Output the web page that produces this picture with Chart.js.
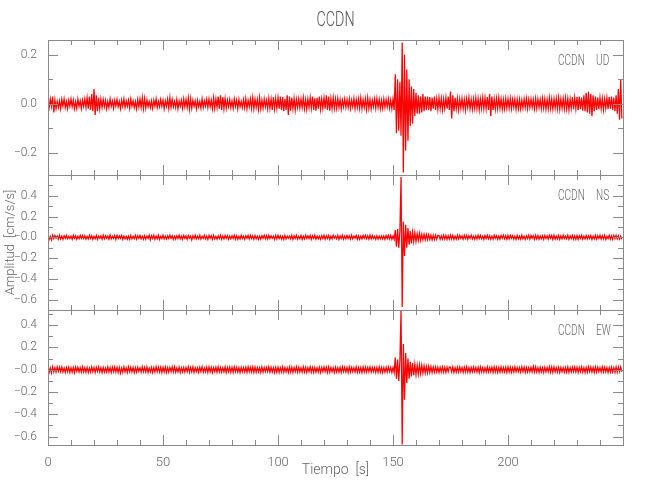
<!DOCTYPE html>
<html><head><meta charset="utf-8">
<script src="https://cdn.jsdelivr.net/npm/chart.js@4/dist/chart.umd.min.js"></script>
<style>html,body{margin:0;padding:0;background:#fff;}canvas{display:block;}</style>
</head><body>
<canvas id="c" width="650" height="500"></canvas>
<script>
// ---------- data ----------
const estacion = 'CCDN';
const componentes = ['UD', 'NS', 'EW'];
const DT = 0.5;                       // sample interval [s]
const xTicks = [0, 50, 100, 150, 200];
const xMinorTicks = [10, 20, 30, 40, 60, 70, 80, 90, 110, 120, 130, 140, 160, 170, 180, 190, 210, 220, 230, 240];
const udTicks = [-0.2, 0, 0.2];
const udMinorTicks = [-0.1, 0.1];
const acTicks = [-0.6, -0.4, -0.2, 0, 0.2, 0.4];
const acMinorTicks = [-0.5, -0.3, -0.1, 0.1, 0.3, 0.5];

const ud = [
.01,-.015,.02,-.01,.03,-.035,.015,-.02,.01,-.015,
.012,-.02,.018,-.01,.02,-.015,.01,-.02,.015,-.01,
.02,-.012,.015,-.02,.01,-.018,.02,-.01,.012,-.02,
.015,-.01,.02,-.015,.025,-.02,.03,-.025,.04,-.03,
.06,-.045,.035,-.03,.025,-.02,.02,-.015,.018,-.012,
.015,-.02,.01,-.015,.02,-.01,.012,-.018,.015,-.01,
.018,-.012,.01,-.02,.015,-.01,.02,-.015,.012,-.01,
.015,-.018,.02,-.01,.012,-.015,.01,-.02,.018,-.012,
.02,-.015,.025,-.02,.022,-.018,.015,-.012,.01,-.015,
.012,-.018,.015,-.01,.02,-.015,.01,-.012,.018,-.01,
.015,-.02,.012,-.01,.02,-.018,.025,-.015,.018,-.012,
.01,-.015,.018,-.02,.012,-.01,.015,-.018,.02,-.012,
.018,-.015,.025,-.022,.02,-.018,.015,-.01,.012,-.02,
.015,-.012,.01,-.018,.02,-.015,.012,-.01,.018,-.015,
.02,-.012,.015,-.02,.025,-.018,.02,-.015,.03,-.02,
.035,-.025,.028,-.02,.022,-.018,.015,-.012,.018,-.015,
.012,-.018,.02,-.01,.015,-.02,.018,-.012,.01,-.015,
.018,-.015,.022,-.02,.015,-.012,.02,-.018,.025,-.02,
.02,-.015,.018,-.022,.025,-.02,.015,-.018,.02,-.012,
.015,-.02,.022,-.018,.02,-.025,.028,-.02,.022,-.018,
.025,-.02,.03,-.025,.028,-.03,.02,-.025,.035,-.045,
.03,-.028,.025,-.02,.022,-.025,.018,-.015,.02,-.018,
.02,-.015,.025,-.02,.018,-.022,.02,-.015,.025,-.018,
.03,-.025,.022,-.028,.025,-.02,.03,-.022,.02,-.018,
.025,-.02,.035,-.025,.03,-.028,.022,-.02,.025,-.018,
.02,-.018,.022,-.015,.018,-.02,.015,-.012,.02,-.015,
.018,-.015,.02,-.018,.015,-.012,.022,-.02,.018,-.015,
.02,-.018,.025,-.02,.018,-.015,.02,-.022,.025,-.018,
.018,-.02,.015,-.012,.02,-.018,.022,-.015,.018,-.02,
.015,-.018,.02,-.015,.018,-.012,.02,-.018,.015,-.02,
.02,-.025,.12,-.12,.1,-.11,.09,-.13,.25,-.28,
.2,-.19,.14,-.15,.1,-.09,.07,-.08,.06,-.05,
.045,-.04,.035,-.04,.03,-.035,.04,-.03,.03,-.025,
.03,-.025,.028,-.03,.025,-.02,.03,-.025,.02,-.022,
.025,-.02,.022,-.025,.02,-.018,.025,-.02,.03,-.025,
.05,-.06,.035,-.03,.025,-.02,.022,-.025,.02,-.018,
.022,-.02,.018,-.025,.02,-.015,.025,-.02,.018,-.022,
.02,-.018,.025,-.02,.022,-.025,.02,-.018,.025,-.02,
.025,-.02,.028,-.025,.04,-.05,.03,-.025,.02,-.022,
.022,-.02,.025,-.018,.02,-.022,.018,-.02,.022,-.018,
.02,-.018,.022,-.02,.018,-.015,.02,-.022,.018,-.02,
.018,-.02,.015,-.018,.02,-.015,.022,-.02,.018,-.015,
.02,-.015,.018,-.02,.022,-.018,.02,-.015,.018,-.02,
.022,-.018,.02,-.022,.018,-.02,.025,-.018,.02,-.022,
.02,-.018,.022,-.02,.025,-.022,.02,-.018,.022,-.02,
.025,-.02,.022,-.025,.02,-.018,.028,-.022,.025,-.02,
.028,-.025,.03,-.022,.025,-.028,.035,-.03,.045,-.035,
.05,-.04,.04,-.05,.035,-.03,.03,-.025,.025,-.022,
.025,-.02,.022,-.025,.02,-.018,.025,-.022,.028,-.02,
.03,-.025,.025,-.03,.035,-.04,.06,-.065,.1,-.06
];

const ns = [
.015,-.02,.01,-.025,.02,-.012,.018,-.01,.012,-.018,
.02,-.015,.012,-.02,.015,-.01,.018,-.015,.01,-.012,
.012,-.018,.02,-.01,.015,-.02,.01,-.015,.018,-.012,
.018,-.012,.015,-.018,.01,-.015,.02,-.012,.015,-.02,
.01,-.015,.018,-.02,.012,-.01,.015,-.018,.02,-.015,
.015,-.01,.012,-.018,.02,-.015,.01,-.012,.018,-.02,
.02,-.012,.015,-.01,.018,-.02,.012,-.015,.01,-.018,
.012,-.02,.018,-.015,.01,-.012,.02,-.018,.015,-.01,
.018,-.015,.01,-.02,.015,-.018,.012,-.01,.02,-.025,
.015,-.012,.02,-.018,.012,-.015,.018,-.02,.01,-.012,
.02,-.015,.012,-.018,.015,-.012,.02,-.01,.015,-.02,
.01,-.018,.015,-.012,.02,-.015,.012,-.02,.018,-.01,
.015,-.02,.018,-.01,.012,-.025,.015,-.012,.02,-.015,
.012,-.015,.02,-.018,.01,-.012,.018,-.015,.012,-.02,
.018,-.01,.015,-.02,.02,-.015,.01,-.018,.015,-.012,
.02,-.018,.012,-.015,.018,-.01,.015,-.02,.012,-.015,
.015,-.012,.02,-.018,.015,-.02,.01,-.015,.02,-.012,
.012,-.02,.015,-.01,.018,-.015,.02,-.012,.015,-.018,
.018,-.015,.01,-.02,.012,-.018,.015,-.01,.02,-.015,
.015,-.018,.02,-.012,.015,-.01,.012,-.02,.018,-.015,
.02,-.012,.015,-.018,.01,-.02,.018,-.015,.012,-.01,
.012,-.015,.018,-.02,.015,-.012,.02,-.018,.01,-.015,
.018,-.02,.012,-.015,.02,-.01,.015,-.012,.018,-.02,
.015,-.01,.02,-.018,.012,-.015,.01,-.02,.015,-.012,
.02,-.018,.015,-.012,.018,-.02,.012,-.015,.02,-.01,
.01,-.015,.018,-.02,.015,-.012,.02,-.018,.012,-.015,
.018,-.012,.015,-.018,.02,-.015,.012,-.01,.018,-.02,
.015,-.02,.012,-.015,.018,-.01,.02,-.015,.015,-.018,
.02,-.015,.018,-.012,.01,-.02,.015,-.018,.012,-.015,
.012,-.018,.015,-.02,.018,-.012,.02,-.015,.018,-.02,
.015,-.02,.07,-.09,.08,-.1,.06,.58,-.67,.15,
-.18,.12,-.1,.09,-.07,.06,-.06,.05,-.04,.045,
-.04,.035,-.03,.04,-.03,.03,-.025,.03,-.025,.028,
-.022,.025,-.02,.022,-.025,.02,-.02,.022,-.018,.02,
.018,-.02,.015,-.018,.02,-.015,.018,-.02,.015,-.018,
.02,-.015,.018,-.02,.012,-.018,.02,-.015,.018,-.012,
.015,-.018,.02,-.012,.018,-.02,.015,-.01,.02,-.015,
.012,-.02,.015,-.018,.02,-.012,.018,-.015,.01,-.02,
.018,-.012,.02,-.015,.015,-.02,.012,-.018,.02,-.01,
.015,-.02,.012,-.018,.018,-.01,.02,-.015,.015,-.02,
.02,-.015,.018,-.01,.015,-.018,.012,-.02,.018,-.015,
.012,-.018,.02,-.015,.01,-.02,.015,-.012,.02,-.018,
.018,-.01,.015,-.02,.02,-.015,.018,-.018,.012,-.015,
.015,-.02,.018,-.012,.015,-.018,.02,-.01,.018,-.02,
.02,-.018,.012,-.015,.018,-.02,.015,-.015,.02,-.012,
.012,-.015,.02,-.02,.015,-.012,.018,-.018,.015,-.02,
.018,-.02,.015,-.01,.02,-.018,.012,-.015,.018,-.015,
.015,-.012,.018,-.02,.012,-.015,.02,-.018,.015,-.01,
.02,-.018,.015,-.015,.018,-.02,.01,-.012,.02,-.018,
.015,-.02,.018,-.012,.02,-.015,.015,-.018,.012,-.02
];

const ew = [
.02,-.025,.015,-.03,.025,-.02,.018,-.022,.025,-.015,
.022,-.018,.025,-.02,.015,-.025,.02,-.018,.022,-.025,
.018,-.022,.02,-.025,.025,-.015,.022,-.02,.018,-.022,
.025,-.02,.018,-.022,.02,-.025,.015,-.02,.025,-.018,
.02,-.025,.022,-.015,.025,-.02,.018,-.025,.02,-.022,
.015,-.02,.025,-.022,.018,-.025,.022,-.018,.025,-.02,
.022,-.025,.02,-.03,.015,-.022,.025,-.02,.018,-.025,
.025,-.018,.022,-.02,.02,-.025,.018,-.022,.022,-.015,
.018,-.022,.025,-.018,.022,-.02,.025,-.025,.015,-.02,
.02,-.025,.018,-.022,.025,-.018,.02,-.02,.022,-.025,
.022,-.02,.025,-.025,.018,-.022,.02,-.018,.025,-.02,
.025,-.022,.015,-.02,.022,-.025,.018,-.02,.02,-.022,
.02,-.018,.025,-.022,.02,-.02,.025,-.025,.018,-.018,
.018,-.025,.022,-.018,.025,-.022,.015,-.02,.022,-.025,
.025,-.02,.02,-.025,.018,-.018,.022,-.022,.025,-.02,
.02,-.022,.018,-.02,.025,-.025,.02,-.018,.022,-.022,
.022,-.025,.025,-.018,.02,-.022,.018,-.025,.02,-.02,
.018,-.02,.022,-.025,.025,-.018,.022,-.02,.025,-.025,
.025,-.022,.02,-.02,.018,-.025,.025,-.022,.02,-.018,
.02,-.018,.025,-.022,.022,-.02,.018,-.025,.022,-.022,
.022,-.025,.018,-.02,.025,-.022,.02,-.02,.018,-.025,
.025,-.02,.022,-.025,.02,-.018,.025,-.022,.022,-.02,
.018,-.022,.025,-.02,.022,-.025,.018,-.018,.025,-.022,
.02,-.025,.02,-.022,.018,-.02,.022,-.025,.02,-.018,
.025,-.018,.022,-.025,.025,-.022,.02,-.02,.018,-.025,
.022,-.02,.018,-.022,.02,-.025,.025,-.018,.022,-.02,
.02,-.025,.025,-.02,.022,-.018,.018,-.022,.025,-.025,
.018,-.022,.02,-.025,.025,-.02,.022,-.02,.02,-.018,
.025,-.02,.022,-.018,.018,-.025,.02,-.022,.025,-.022,
.02,-.025,.018,-.022,.022,-.02,.025,-.018,.02,-.025,
.02,-.025,.11,-.08,.09,-.1,.08,.53,-.67,.23,
-.27,.15,-.12,.1,-.08,.07,-.06,.06,-.05,.05,
-.045,.04,-.04,.045,-.035,.04,-.03,.035,-.03,.03,
-.028,.03,-.025,.028,-.025,.025,-.022,.025,-.02,.022,
-.025,.022,-.02,.025,-.022,.02,-.025,.022,-.018,.025,
.022,-.02,.025,-.025,.018,-.022,.022,-.02,.025,-.018,
.02,-.025,.022,-.02,.025,-.022,.018,-.025,.02,-.02,
.025,-.018,.02,-.022,.022,-.025,.025,-.02,.018,-.022,
.018,-.022,.025,-.02,.02,-.018,.022,-.025,.025,-.02,
.022,-.025,.018,-.022,.025,-.02,.02,-.018,.022,-.025,
.025,-.02,.022,-.025,.018,-.022,.025,-.02,.02,-.018,
.02,-.022,.025,-.018,.022,-.025,.02,-.022,.018,-.02,
.022,-.018,.03,-.02,.025,-.022,.018,-.025,.022,-.02,
.018,-.025,.022,-.02,.02,-.018,.025,-.022,.025,-.025,
.025,-.02,.018,-.022,.022,-.025,.02,-.02,.018,-.022,
.02,-.022,.025,-.025,.018,-.02,.022,-.018,.025,-.02,
.022,-.025,.02,-.018,.025,-.022,.018,-.025,.02,-.022,
.025,-.018,.022,-.022,.02,-.025,.025,-.02,.022,-.018,
.018,-.022,.025,-.02,.022,-.018,.02,-.025,.018,-.022,
.022,-.02,.018,-.025,.025,-.022,.022,-.018,.025,-.02
];

// ---------- styling ----------
const FONT = 'Roboto, "Liberation Sans", sans-serif';
const TEXT = '#666666';
const AXIS = '#8a8a8a';
const RED = '#ff0000';
Chart.defaults.font.family = FONT;
Chart.defaults.font.weight = 300;
Chart.defaults.color = TEXT;

const series = (vals) => vals.map((v, i) => ({ x: i * DT, y: v }));
const minusFmt = (v) => (v < 0 ? '\u2212' : '') + Math.abs(v).toFixed(1);

const panels = [
  { id: 'yUD', comp: componentes[0], major: udTicks, minor: udMinorTicks },
  { id: 'yNS', comp: componentes[1], major: acTicks, minor: acMinorTicks },
  { id: 'yEW', comp: componentes[2], major: acTicks, minor: acMinorTicks }
];

// condensed text helper (mimics the narrow stroke font of the original)
function narrowText(ctx, text, x, y, size, align, squeeze) {
  ctx.save();
  ctx.font = '300 ' + size + 'px ' + FONT;
  ctx.textBaseline = 'middle';
  ctx.textAlign = align;
  ctx.translate(x, y);
  ctx.scale(squeeze, 1);
  ctx.fillText(text, 0, 0);
  ctx.restore();
}

const framePlugin = {
  id: 'frames',
  afterDatasetsDraw(chart) {
    const ctx = chart.ctx, xs = chart.scales.x;
    const L = Math.round(xs.left), R = Math.round(xs.right);
    ctx.save();
    ctx.strokeStyle = AXIS;
    ctx.lineWidth = 1;
    const seg = (x1, y1, x2, y2) => { ctx.beginPath(); ctx.moveTo(x1, y1); ctx.lineTo(x2, y2); ctx.stroke(); };
    panels.forEach(p => {
      const ys = chart.scales[p.id];
      const T = Math.round(ys.top), B = Math.round(ys.bottom);
      ctx.strokeRect(L + 0.5, T + 0.5, R - L, B - T);
      xTicks.forEach(v => { const px = Math.round(xs.getPixelForValue(v)) + 0.5; seg(px, B, px, B - 10); seg(px, T, px, T + 10); });
      xMinorTicks.forEach(v => { const px = Math.round(xs.getPixelForValue(v)) + 0.5; seg(px, B, px, B - 5); seg(px, T, px, T + 5); });
      p.major.forEach(v => { const py = Math.round(ys.getPixelForValue(v)) + 0.5; seg(L, py, L + 10, py); seg(R, py, R - 10, py); });
      p.minor.forEach(v => { const py = Math.round(ys.getPixelForValue(v)) + 0.5; seg(L, py, L + 5, py); seg(R, py, R - 5, py); });
      ctx.fillStyle = TEXT;
      narrowText(ctx, estacion, R - 65, T + 21.5, 14, 'left', 0.72);
      narrowText(ctx, p.comp, R - 27, T + 21.5, 14, 'left', 0.72);
    });
    // main title
    ctx.fillStyle = '#555555';
    narrowText(ctx, estacion, (L + R) / 2, 21, 21, 'center', 0.68);
    ctx.restore();
  }
};

const yCommon = (lo, hi, ticks, zeroLabel) => ({
  type: 'linear', position: 'left', stack: 'panels', stackWeight: 1,
  min: lo, max: hi,
  grid: { display: false }, border: { display: false },
  afterBuildTicks: (s) => { s.ticks = ticks.map(v => ({ value: v })); },
  afterFit: (s) => { s.width = 48; },
  ticks: { padding: 3, autoSkip: false, font: { size: 12 }, color: TEXT,
    callback: (v) => (Math.abs(v) < 1e-9 ? zeroLabel : minusFmt(v)) }
});

const yNS = yCommon(-0.70, 0.60, acTicks, '\u22120.0');
yNS.title = { display: true, text: 'Amplitud  [cm/s/s]', color: TEXT, font: { size: 13 }, padding: { top: 3, bottom: 0 } };

new Chart(document.getElementById('c'), {
  type: 'line',
  data: {
    datasets: [
      { label: componentes[0], data: series(ud), yAxisID: 'yUD', borderColor: RED, borderWidth: 1.25, pointRadius: 0, tension: 0, fill: false },
      { label: componentes[1], data: series(ns), yAxisID: 'yNS', borderColor: RED, borderWidth: 1.25, pointRadius: 0, tension: 0, fill: false },
      { label: componentes[2], data: series(ew), yAxisID: 'yEW', borderColor: RED, borderWidth: 1.25, pointRadius: 0, tension: 0, fill: false }
    ]
  },
  options: {
    responsive: false, animation: false,
    layout: { padding: { left: 0, right: 27, top: 40, bottom: 0 } },
    plugins: { legend: { display: false }, tooltip: { enabled: false }, title: { display: false } },
    scales: {
      x: {
        type: 'linear', position: 'bottom', min: 0, max: 250,
        grid: { display: false }, border: { display: false },
        afterBuildTicks: (s) => { s.ticks = xTicks.map(v => ({ value: v })); },
        afterFit: (s) => { s.height = 55; },
        ticks: { padding: 2, autoSkip: false, font: { size: 13 }, color: TEXT, maxRotation: 0, callback: (v) => String(v) },
        title: { display: true, text: 'Tiempo  [s]', color: TEXT, font: { size: 14 }, padding: { top: 0, bottom: 21 } }
      },
      yEW: yCommon(-0.675, 0.535, acTicks, '\u22120.0'),
      yNS: yNS,
      yUD: yCommon(-0.29, 0.26, udTicks, '0.0')
    }
  },
  plugins: [framePlugin]
});
</script>
</body></html>
